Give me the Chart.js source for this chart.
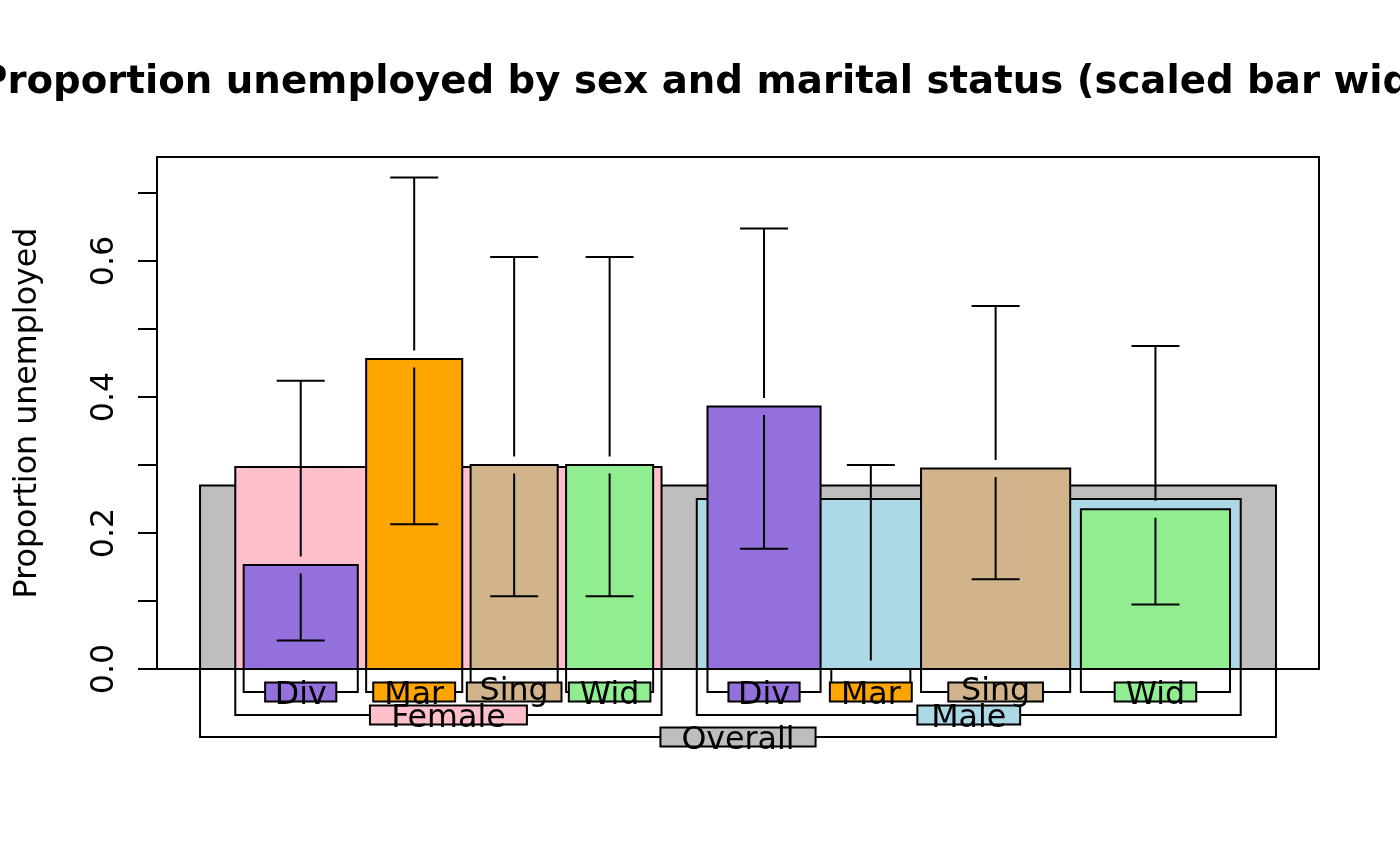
<!DOCTYPE html>
<html>
<head>
<meta charset="utf-8">
<script src="https://cdn.jsdelivr.net/npm/chart.js@4"></script>
<style>
  html, body { margin: 0; padding: 0; background: #ffffff; }
  #wrap { width: 1400px; height: 866px; }
</style>
</head>
<body>
<div id="wrap"><canvas id="c" width="1400" height="866"></canvas></div>
<script>
// ---------------- data ----------------
const chartTitle = "Proportion unemployed by sex and marital status (scaled bar widths)";
const yAxisTitle = "Proportion unemployed";

const overallLabel = "Overall";
const overallValue = 0.270;

const sexLabels = ["Female", "Male"];
const sexValues = [0.297, 0.250];

const statusLabels = ["Div", "Mar", "Sing", "Wid"];
const femaleValues = [0.153, 0.456, 0.300, 0.300];
const maleValues   = [0.386, 0.000, 0.295, 0.235];

const femaleLower = [0.042, 0.213, 0.107, 0.107];
const femaleUpper = [0.424, 0.723, 0.606, 0.606];
const maleLower   = [0.177, 0.000, 0.132, 0.095];
const maleUpper   = [0.648, 0.300, 0.534, 0.475];

// relative group sizes (bar widths are scaled by these)
const femaleWeights = [114, 96, 87, 87];
const maleWeights   = [113, 79, 149, 149];

const yTickValues = [0, 0.1, 0.2, 0.3, 0.4, 0.5, 0.6, 0.7];
const yLabelValues = [0, 0.2, 0.4, 0.6];
const yTickLabels = ["0.0", "0.2", "0.4", "0.6"];
const yMax = 0.753;

// ---------------- styles ----------------
const overallColor = "#BEBEBE";
const sexColors = ["#FFC0CB", "#ADD8E6"];
const statusColors = ["#9370DB", "#FFA500", "#D2B48C", "#90EE90"];
const FONT = '"DejaVu Sans", sans-serif';
const LABEL_PX = 31.7;
const TITLE_PX = 38.7;

// ---------------- layout (in x-units) ----------------
const EXPAND = 1.109;
function sum(a) { return a.reduce((s, v) => s + v, 0); }
function layoutChildren(widths, start, total) {
  const gap = (total - sum(widths)) / (widths.length + 1);
  const out = [];
  let x = start + gap;
  widths.forEach(w => { out.push([x, x + w]); x += w + gap; });
  return out;
}
const groupWeights = [femaleWeights, maleWeights];
const groupWidths = groupWeights.map(w => sum(w) * EXPAND);
const overallWidth = sum(groupWidths) * EXPAND;
const overallSpan = [0, overallWidth];
const sexSpans = layoutChildren(groupWidths, 0, overallWidth);
const leafSpans = groupWeights.map((w, g) => layoutChildren(w, sexSpans[g][0], groupWidths[g]));
const groupValues = [femaleValues, maleValues];
const groupLower = [femaleLower, maleLower];
const groupUpper = [femaleUpper, maleUpper];

// ---------------- datasets: each bar is a filled outline ----------------
function barData(span, v) {
  return [{x: span[0], y: 0}, {x: span[0], y: v}, {x: span[1], y: v}, {x: span[1], y: 0}];
}
const datasets = [];
function addBar(label, span, v, color) {
  datasets.push({
    label: label,
    data: barData(span, v),
    showLine: true,
    fill: 'origin',
    backgroundColor: color,
    borderColor: '#000000',
    borderWidth: 2,
    pointRadius: 0,
    pointHoverRadius: 0,
    tension: 0,
    borderJoinStyle: 'miter'
  });
}
addBar(overallLabel, overallSpan, overallValue, overallColor);
sexLabels.forEach((s, g) => addBar(s, sexSpans[g], sexValues[g], sexColors[g]));
sexLabels.forEach((s, g) => statusLabels.forEach((st, i) =>
  addBar(s + " " + st, leafSpans[g][i], groupValues[g][i], statusColors[i])));
datasets.forEach((d, i) => { d.order = -i; });

// ---------------- plugin: axes, error bars, nested labels ----------------
const PLOT = { left: 157, top: 157, right: 1319, bottom: 669 };
const LEVEL_DEPTH = { overall: 68, sex: 46, leaf: 23 };

const nestPlugin = {
  id: 'nest',
  afterDatasetsDraw(chart) {
    const ctx = chart.ctx, xs = chart.scales.x, ys = chart.scales.y;
    ctx.save();
    ctx.strokeStyle = '#000'; ctx.lineWidth = 2; ctx.lineCap = 'butt';
    const gap = 8.5, capHalf = 24;
    groupValues.forEach((vals, g) => vals.forEach((v, i) => {
      const cx = xs.getPixelForValue((leafSpans[g][i][0] + leafSpans[g][i][1]) / 2);
      const yv = ys.getPixelForValue(v);
      const yHi = ys.getPixelForValue(groupUpper[g][i]);
      const yLo = ys.getPixelForValue(groupLower[g][i]);
      if (yHi < yv - gap) {
        ctx.beginPath();
        ctx.moveTo(cx, yv - gap); ctx.lineTo(cx, yHi);
        ctx.moveTo(cx - capHalf, yHi); ctx.lineTo(cx + capHalf, yHi);
        ctx.stroke();
      }
      if (yLo > yv + gap) {
        ctx.beginPath();
        ctx.moveTo(cx, yv + gap); ctx.lineTo(cx, yLo);
        ctx.moveTo(cx - capHalf, yLo); ctx.lineTo(cx + capHalf, yLo);
        ctx.stroke();
      }
    }));
    ctx.restore();
  },
  afterDraw(chart) {
    const ctx = chart.ctx, xs = chart.scales.x, ys = chart.scales.y;
    const ca = chart.chartArea;
    ctx.save();
    ctx.strokeStyle = '#000'; ctx.lineWidth = 2; ctx.fillStyle = '#000';
    // plot box
    ctx.strokeRect(ca.left, ca.top, ca.right - ca.left, ca.bottom - ca.top);
    // y axis
    const axX = ca.left;
    ctx.beginPath();
    ctx.moveTo(axX, ys.getPixelForValue(yTickValues[0]));
    ctx.lineTo(axX, ys.getPixelForValue(yTickValues[yTickValues.length - 1]));
    yTickValues.forEach(t => {
      const y = ys.getPixelForValue(t);
      ctx.moveTo(axX - 19, y); ctx.lineTo(axX, y);
    });
    ctx.stroke();
    ctx.font = LABEL_PX + 'px ' + FONT;
    ctx.textAlign = 'center'; ctx.textBaseline = 'alphabetic';
    yLabelValues.forEach((t, i) => {
      ctx.save();
      ctx.translate(113, ys.getPixelForValue(t));
      ctx.rotate(-Math.PI / 2);
      ctx.fillText(yTickLabels[i], 0, 0);
      ctx.restore();
    });
    // y title
    ctx.save();
    ctx.translate(36, (ca.top + ca.bottom) / 2);
    ctx.rotate(-Math.PI / 2);
    ctx.fillText(yAxisTitle, 0, 0);
    ctx.restore();
    // title
    ctx.font = 'bold ' + TITLE_PX + 'px ' + FONT;
    ctx.fillText(chartTitle, (ca.left + ca.right) / 2, 93);

    // nested outlines below axis
    const base = ca.bottom;
    const nodes = [];
    nodes.push({span: overallSpan, label: overallLabel, color: overallColor, depth: LEVEL_DEPTH.overall});
    sexLabels.forEach((s, g) => nodes.push({span: sexSpans[g], label: s, color: sexColors[g], depth: LEVEL_DEPTH.sex}));
    sexLabels.forEach((s, g) => statusLabels.forEach((st, i) =>
      nodes.push({span: leafSpans[g][i], label: st, color: statusColors[i], depth: LEVEL_DEPTH.leaf})));
    ctx.beginPath();
    nodes.forEach(n => {
      const x0 = xs.getPixelForValue(n.span[0]), x1 = xs.getPixelForValue(n.span[1]);
      ctx.moveTo(x0, base); ctx.lineTo(x0, base + n.depth); ctx.lineTo(x1, base + n.depth); ctx.lineTo(x1, base);
    });
    ctx.stroke();
    ctx.font = LABEL_PX + 'px ' + FONT;
    nodes.forEach(n => {
      const cx = (xs.getPixelForValue(n.span[0]) + xs.getPixelForValue(n.span[1])) / 2;
      const cy = base + n.depth;
      const m = ctx.measureText(n.label);
      const w = m.width * 1.37;
      const h = 19;
      ctx.fillStyle = n.color;
      ctx.fillRect(cx - w / 2, cy - h / 2, w, h);
      ctx.strokeRect(cx - w / 2, cy - h / 2, w, h);
      ctx.fillStyle = '#000';
      const asc = Math.min(m.actualBoundingBoxAscent || 23, 23.5);
      const desc = m.actualBoundingBoxDescent || 0;
      ctx.fillText(n.label, cx, cy + (asc - desc) / 2);
    });
    ctx.restore();
  }
};

new Chart(document.getElementById('c'), {
  type: 'scatter',
  data: { datasets: datasets },
  options: {
    responsive: false,
    animation: false,
    devicePixelRatio: 1,
    layout: { padding: { left: PLOT.left, top: PLOT.top, right: 1400 - PLOT.right, bottom: 866 - PLOT.bottom } },
    plugins: { legend: { display: false }, tooltip: { enabled: false }, title: { display: false },
               filler: { propagate: false } },
    scales: {
      x: { type: 'linear', display: false, min: -0.04 * overallWidth, max: 1.04 * overallWidth },
      y: { type: 'linear', display: false, min: 0, max: yMax }
    },
    events: []
  },
  plugins: [nestPlugin]
});
</script>
</body>
</html>
